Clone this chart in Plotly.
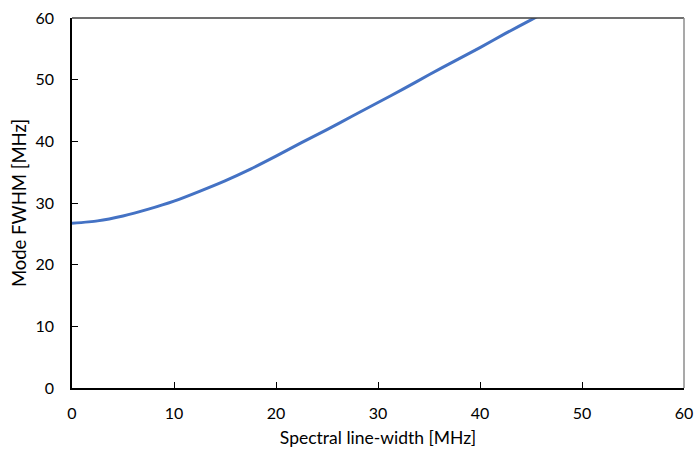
import plotly.graph_objects as go

linewidth_mhz = [0, 2.5, 5, 7.5, 10, 12.5, 15, 17.5, 20, 22.5, 25, 27.5, 30, 32.5, 35, 37.5, 40, 42.5, 45, 47.5]
mode_fwhm_mhz = [26.7, 27.1, 27.9, 29.0, 30.3, 31.9, 33.6, 35.5, 37.6, 39.8, 41.9, 44.1, 46.3, 48.5, 50.8, 53.0, 55.2, 57.5, 59.7, 61.9]

x_ticks = [0, 10, 20, 30, 40, 50, 60]
y_ticks = [0, 10, 20, 30, 40, 50, 60]

font_family = "Lato, 'Open Sans', sans-serif"

fig = go.Figure()
fig.add_trace(go.Scatter(
    x=linewidth_mhz, y=mode_fwhm_mhz, mode="lines",
    line=dict(color="#4472C4", width=3, shape="spline", smoothing=0.6),
    showlegend=False, cliponaxis=True,
))

fig.update_layout(
    width=699, height=454,
    margin=dict(l=72, r=15, t=18, b=66),
    paper_bgcolor="white", plot_bgcolor="white",
    font=dict(family=font_family, size=16, color="#000000"),
    xaxis=dict(
        range=[0, 60], tickvals=x_ticks, showgrid=False, zeroline=False,
        showline=True, linecolor="#000000", linewidth=1.5,
        ticks="inside", ticklen=6, tickcolor="#000000", tickwidth=1,
        ticklabelstandoff=10, automargin=False, tickfont=dict(size=16),
        title=dict(text="Spectral line-width [MHz]", font=dict(size=17.5), standoff=11),
    ),
    yaxis=dict(
        range=[0, 60], tickvals=y_ticks, showgrid=False, zeroline=False,
        showline=True, linecolor="#000000", linewidth=1.5,
        ticks="inside", ticklen=6, tickcolor="#000000", tickwidth=1,
        ticklabelstandoff=13, automargin=False, tickfont=dict(size=16),
        title=dict(text="Mode FWHM [MHz]", font=dict(size=18.5), standoff=4),
    ),
    shapes=[
        dict(type="line", xref="paper", yref="paper", x0=0, x1=1, y0=1, y1=1,
             line=dict(color="#404040", width=1.5)),
        dict(type="line", xref="paper", yref="paper", x0=1, x1=1, y0=0, y1=1,
             line=dict(color="#8c8c8c", width=1.5)),
    ],
)

fig.write_html("out.html")
